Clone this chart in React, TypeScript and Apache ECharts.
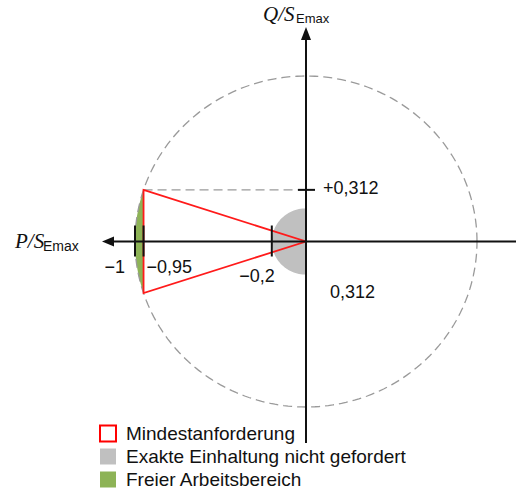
import React, { useEffect, useRef } from "react";
import * as echarts from "echarts";

// ---- data ----
const circleRadius = 1;
const triangle: [number, number][] = [
  [-0.95, 0.312],
  [0, 0],
  [-0.95, -0.312],
];
const pLimit = -0.95;
const qLimit = 0.312;
const grayRadius = 0.2;
const pTicks = [-1, -0.95, -0.2];
const pTickLabels = ["\u22121", "\u22120,95", "\u22120,2"];
const qTicks = [0.312];
const qTickLabels = ["+0,312"];
const lowerLabel = "0,312";
const legendNames = [
  "Mindestanforderung",
  "Exakte Einhaltung nicht gefordert",
  "Freier Arbeitsbereich",
];

const SANS = '"Liberation Sans", Arial, sans-serif';
const SERIF = '"Liberation Serif", "Times New Roman", serif';

function arcPoints(r: number, a0: number, a1: number, n: number): [number, number][] {
  const pts: [number, number][] = [];
  for (let i = 0; i <= n; i++) {
    const a = a0 + ((a1 - a0) * i) / n;
    pts.push([r * Math.cos(a), r * Math.sin(a)]);
  }
  return pts;
}

export default function App() {
  const ref = useRef<HTMLDivElement>(null);
  useEffect(() => {
    if (!ref.current) return;
    const chart = echarts.init(ref.current, undefined, { renderer: "svg" });
    const one = [[0, 0]];
    const greenAngle = Math.atan2(qLimit, pLimit);
    const greenArc = arcPoints(circleRadius, greenAngle, 2 * Math.PI - greenAngle, 40);
    const grayArc = arcPoints(grayRadius, Math.PI / 2, (3 * Math.PI) / 2, 60);
    const circle = arcPoints(circleRadius, 0, 2 * Math.PI, 240);

    const option: any = {
      animation: false,
      backgroundColor: "#ffffff",
      grid: { left: 135, right: 39, top: 76, bottom: 85 },
      xAxis: { type: "value", min: -1, max: 1, show: false },
      yAxis: { type: "value", min: -1, max: 1, show: false },
      legend: {
        orient: "vertical",
        left: 99,
        top: 424,
        itemWidth: 16,
        itemHeight: 16,
        itemGap: 4,
        padding: 0,
        selectedMode: false,
        textStyle: { fontSize: 19, fontFamily: SANS, color: "#111", padding: [0, 0, 0, 5] },
        data: [
          { name: legendNames[0], icon: "rect", itemStyle: { color: "#ffffff", borderColor: "#ff0000", borderWidth: 2 } },
          { name: legendNames[1], icon: "rect", itemStyle: { color: "#c0c0c0", borderWidth: 0 } },
          { name: legendNames[2], icon: "rect", itemStyle: { color: "#8db356", borderWidth: 0 } },
        ],
      },
      series: [
        {
          type: "custom",
          name: legendNames[2],
          data: one,
          z: 1,
          renderItem: (_p: any, api: any) => ({
            type: "polygon",
            shape: { points: greenArc.map((p) => api.coord(p)) },
            style: { fill: "#8db356" },
          }),
        },
        {
          type: "custom",
          name: legendNames[1],
          data: one,
          z: 2,
          renderItem: (_p: any, api: any) => ({
            type: "polygon",
            shape: { points: grayArc.map((p) => api.coord(p)) },
            style: { fill: "#c0c0c0" },
          }),
        },
        {
          type: "custom",
          data: one,
          z: 3,
          renderItem: (_p: any, api: any) => ({
            type: "group",
            children: [
              {
                type: "polyline",
                shape: { points: circle.map((p) => api.coord(p)) },
                style: { stroke: "#9a9a9a", lineWidth: 1.3, lineDash: [9, 5], fill: "none" },
              },
              {
                type: "line",
                shape: (() => {
                  const a = api.coord([pLimit, qLimit]);
                  const b = api.coord([0, qLimit]);
                  return { x1: a[0], y1: a[1], x2: b[0], y2: b[1] };
                })(),
                style: { stroke: "#9a9a9a", lineWidth: 1.3, lineDash: [9, 5] },
              },
            ],
          }),
        },
        {
          type: "custom",
          name: legendNames[0],
          data: one,
          z: 4,
          renderItem: (_p: any, api: any) => ({
            type: "polygon",
            shape: { points: triangle.map((p) => api.coord(p)) },
            style: { fill: "none", stroke: "#ff1a1a", lineWidth: 1.8 },
          }),
        },
        {
          type: "custom",
          data: one,
          z: 5,
          renderItem: (_p: any, api: any) => {
            const o = api.coord([0, 0]);
            const black = "#111111";
            const children: any[] = [];
            // horizontal axis
            children.push({ type: "line", shape: { x1: 112, y1: o[1], x2: 516, y2: o[1] }, style: { stroke: black, lineWidth: 2 } });
            children.push({
              type: "polygon",
              shape: { points: [[102, o[1]], [114, o[1] - 5], [114, o[1] + 5]] },
              style: { fill: black },
            });
            // vertical axis
            children.push({ type: "line", shape: { x1: o[0], y1: 38, x2: o[0], y2: 443 }, style: { stroke: black, lineWidth: 2 } });
            children.push({
              type: "polygon",
              shape: { points: [[o[0], 27], [o[0] - 5, 40], [o[0] + 5, 40]] },
              style: { fill: black },
            });
            // P ticks
            pTicks.forEach((t) => {
              const c = api.coord([t, 0]);
              children.push({ type: "line", shape: { x1: c[0], y1: c[1] - 16, x2: c[0], y2: c[1] + 15 }, style: { stroke: black, lineWidth: 2 } });
            });
            // Q ticks
            qTicks.forEach((t) => {
              const c = api.coord([0, t]);
              children.push({ type: "line", shape: { x1: c[0] - 8, y1: c[1], x2: c[0] + 9, y2: c[1] }, style: { stroke: black, lineWidth: 2 } });
            });
            const txt = (text: string, x: number, y: number, align: string, size = 18, extra: any = {}) => ({
              type: "text",
              x,
              y,
              style: { text, fill: black, fontSize: size, fontFamily: SANS, align, verticalAlign: "middle", ...extra },
            });
            // P tick labels
            const c0 = api.coord([pTicks[0], 0]);
            children.push(txt(pTickLabels[0], c0[0] - 10, c0[1] + 25, "right"));
            const c1 = api.coord([pTicks[1], 0]);
            children.push(txt(pTickLabels[1], c1[0] + 3, c1[1] + 25, "left"));
            const c2 = api.coord([pTicks[2], 0]);
            children.push(txt(pTickLabels[2], c2[0] + 3, c2[1] + 34, "right"));
            // Q tick label
            const q0 = api.coord([0, qTicks[0]]);
            children.push(txt(qTickLabels[0], q0[0] + 17, q0[1] - 2, "left"));
            const q1 = api.coord([0, -qLimit]);
            children.push(txt(lowerLabel, q1[0] + 24, q1[1] - 1, "left"));
            // axis titles
            children.push(txt("P/S", 15, o[1] - 1, "left", 21, { fontFamily: SERIF, fontStyle: "italic" }));
            children.push(txt("Emax", 43, o[1] + 4, "left", 14));
            children.push(txt("Q/S", o[0] - 43, 14, "left", 21, { fontFamily: SERIF, fontStyle: "italic" }));
            children.push(txt("Emax", o[0] - 10, 18, "left", 13));
            return { type: "group", children };
          },
        },
      ],
    };
    chart.setOption(option);
    return () => chart.dispose();
  }, []);
  return (
    <div
      ref={ref}
      style={{ position: "absolute", left: 0, top: 0, width: 516, height: 492, background: "#fff" }}
    />
  );
}
